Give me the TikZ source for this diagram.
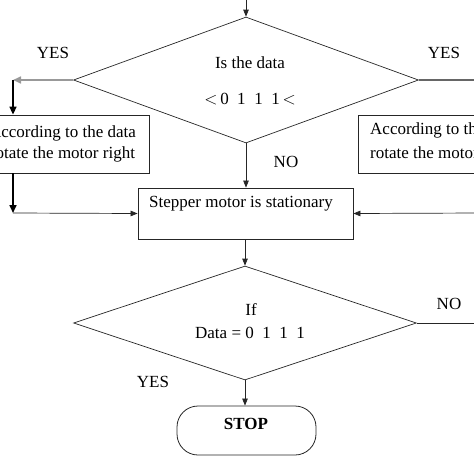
\documentclass[tikz,border=0pt]{standalone}
\usepackage{fontspec}
\setmainfont{Liberation Serif}
\usetikzlibrary{shapes.geometric,arrows.meta}
\begin{document}
\begin{tikzpicture}[x=1pt,y=-1pt,
  every node/.style={font=\fontsize{17}{20}\selectfont},
  ln/.style={draw=black!85,line width=0.7pt},
  arr/.style={ln,-{Triangle[length=7pt,width=5.5pt]}},
  thk/.style={draw=black,line width=1.6pt,-{Triangle[length=8pt,width=7pt]}},
  gry/.style={draw=black!40,line width=1.6pt,-{Triangle[length=8pt,width=7pt]},},
  box/.style={draw=black!85,line width=0.8pt,rectangle,inner sep=0pt},
  dec/.style={draw=black!85,line width=0.7pt,diamond,inner sep=0pt},
  lbl/.style={inner sep=0pt}]
\useasboundingbox (0,0) rectangle (474,474);
% decisions
\node[dec,minimum width=345pt,minimum height=126pt] (d1) at (246,80) {};
\node[lbl] (d1a) at (250,63) {Is the data};
\node[lbl] (d1b) at (250,99) {$<$\,0\,\,\,1\,\,\,1\,\,\,1\,$<$};
\node[dec,minimum width=343pt,minimum height=114pt] (d2) at (245,323) {};
\node[lbl] (d2a) at (251,310) {If};
\node[lbl] (d2b) at (250,333) {Data = 0\,\,\,1\,\,\,1\,\,\,1};
% boxes
\node[box,minimum width=173pt,minimum height=58pt,align=center] (lb) at (62.5,144) {According to the data\\[1pt]rotate the motor right};
\node[box,minimum width=173pt,minimum height=58pt,anchor=north west] (rb) at (358,115) {};
\node[lbl,anchor=west] (rbt1) at (370,130) {According to the data};
\node[lbl,anchor=west] (rbt2) at (370,153) {rotate the motor left};
\node[box,minimum width=215pt,minimum height=51pt] (mb) at (245.5,213.5) {};
\node[lbl] (mbt) at (241,204) {Stepper motor is stationary};
\node[draw=black!85,line width=0.8pt,rounded corners=21pt,minimum width=139pt,minimum height=49pt] (stop) at (246.5,430.5) {};
\node[lbl,font=\fontsize{17}{20}\selectfont\bfseries] (stopt) at (246,424) {STOP};
% labels
\node[lbl] (y1) at (53,53) {YES};
\node[lbl] (y2) at (444,53) {YES};
\node[lbl] (n1) at (286,162) {NO};
\node[lbl] (n2) at (449,304) {NO};
\node[lbl] (y3) at (153,382) {YES};
% coordinates
\coordinate (top) at (246,-2);
\coordinate (lc) at (13,80);
\coordinate (lc2) at (13,213);
\coordinate (re1) at (480,80);
\coordinate (re2) at (480,213);
\coordinate (re3) at (480,323);
% connectors
\draw[arr] (top) -- (d1.north);
\draw[gry] (d1.west) -- (lc);
\draw[thk] (lc) -- (lc|-lb.north);
\draw[thk] (lc|-lb.south) -- (lc2);
\draw[arr] (lc2) -- (mb.west);
\draw[ln,draw=black!60,line width=1.2pt] (d1.east) -- (re1);
\draw[arr] (re2) -- (mb.east);
\draw[arr] (d1.south) -- (d1.south|-mb.north);
\draw[arr] (mb.south-|d2.north) -- (d2.north);
\draw[ln] (d2.east) -- (re3);
\draw[arr] (d2.south) -- (stop.north-|d2.south);
\end{tikzpicture}
\end{document}
